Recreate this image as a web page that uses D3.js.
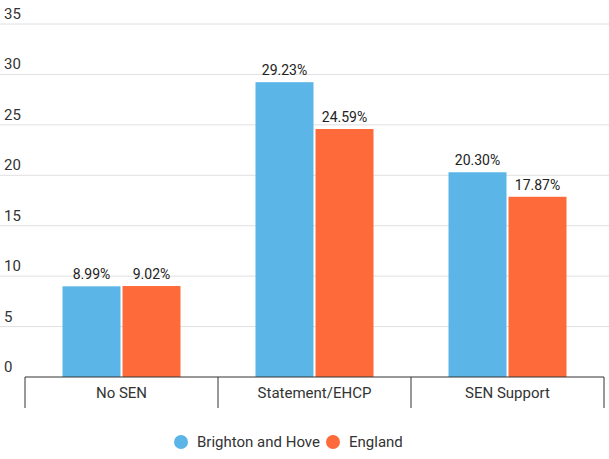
<!DOCTYPE html>
<html><head><meta charset="utf-8">
<script src="https://cdn.jsdelivr.net/npm/d3@7"></script>
<style>body{margin:0;background:#fff}text{font-family:Roboto,sans-serif}</style>
</head><body>
<script>
const categories = ["No SEN", "Statement/EHCP", "SEN Support"];
const series = ["Brighton and Hove", "England"];
const brighton = [8.99, 29.23, 20.30];
const england = [9.02, 24.59, 17.87];
const yTicks = [0, 5, 10, 15, 20, 25, 30, 35];
const colors = ["#5bb5e6", "#ff6a3b"];

const W = 609, H = 459;
const svg = d3.select("body").append("svg").attr("width", W).attr("height", H);

const x = d3.scaleBand().domain(categories).range([25, 604]);
const y = d3.scaleLinear().domain([0, 35]).range([377, 24]);

// gridlines + labels
yTicks.forEach(function (t) {
    if (t > 0) {
        svg.append("line").attr("x1", 0).attr("x2", W)
            .attr("y1", y(t)).attr("y2", y(t))
            .attr("stroke", "#e0e0e0");
    }
    svg.append("text").attr("x", 4).attr("y", y(t) - 5)
        .attr("font-size", 15).attr("fill", "#333").text(t);
});

const data = categories.map(function (c, i) {
    return {cat: c, vals: [brighton[i], england[i]]};
});

const barW = 58, gap = 2;
const g = svg.selectAll("g.cat").data(data).join("g").attr("class", "cat");
[0, 1].forEach(function (s) {
    g.append("rect")
        .attr("x", d => x(d.cat) + x.bandwidth() / 2 - barW - gap / 2 + s * (barW + gap))
        .attr("y", d => y(d.vals[s]))
        .attr("width", barW)
        .attr("height", d => y(0) - y(d.vals[s]))
        .attr("fill", colors[s]);
    g.append("text")
        .attr("x", d => x(d.cat) + x.bandwidth() / 2 - barW / 2 - gap / 2 + s * (barW + gap))
        .attr("y", d => y(d.vals[s]) - 7)
        .attr("text-anchor", "middle").attr("font-size", 14).attr("fill", "#222")
        .text(d => d.vals[s].toFixed(2) + "%");
});

// x axis
svg.append("line").attr("x1", 25).attr("x2", 604).attr("y1", y(0)).attr("y2", y(0)).attr("stroke", "#333");
const seps = categories.map(c => x(c)).concat([x.range()[1]]);
seps.forEach(function (sx) {
    svg.append("line").attr("x1", sx).attr("x2", sx).attr("y1", y(0)).attr("y2", 408).attr("stroke", "#333");
});
categories.forEach(function (c) {
    svg.append("text").attr("x", x(c) + x.bandwidth() / 2).attr("y", 398)
        .attr("text-anchor", "middle").attr("font-size", 15).attr("fill", "#333").text(c);
});

// legend
const legX = [181, 333];
series.forEach(function (s, i) {
    svg.append("circle").attr("cx", legX[i]).attr("cy", 442).attr("r", 7).attr("fill", colors[i]);
    svg.append("text").attr("x", legX[i] + 16).attr("y", 447).attr("font-size", 15).attr("fill", "#333").text(s);
});
</script>
</body></html>
